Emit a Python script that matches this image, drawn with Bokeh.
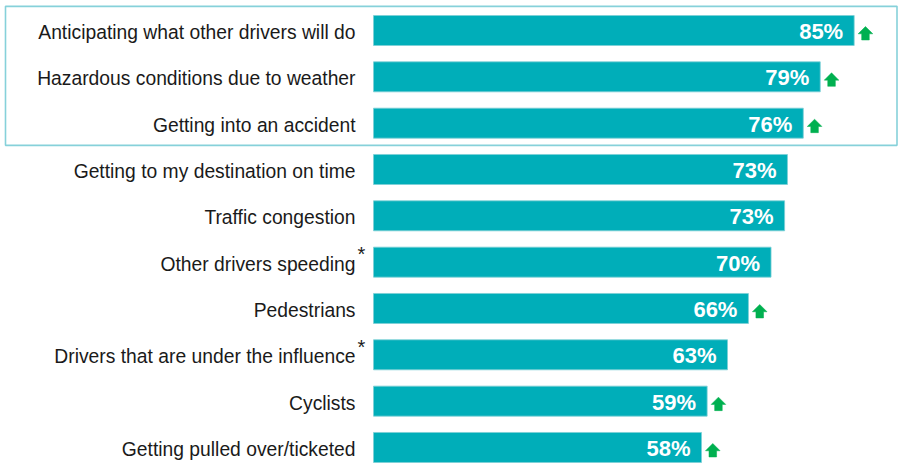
from bokeh.plotting import figure
from bokeh.models import Range1d, ColumnDataSource
from bokeh.core.properties import value
from bokeh.embed import file_html
from bokeh.resources import INLINE

# ---- data ----
categories = [
    "Anticipating what other drivers will do",
    "Hazardous conditions due to weather",
    "Getting into an accident",
    "Getting to my destination on time",
    "Traffic congestion",
    "Other drivers speeding",
    "Pedestrians",
    "Drivers that are under the influence",
    "Cyclists",
    "Getting pulled over/ticketed",
]
values = [85, 79, 76, 73.2, 72.7, 70.3, 66.3, 62.6, 59, 58]
value_labels = ["85%", "79%", "76%", "73%", "73%", "70%", "66%", "63%", "59%", "58%"]
starred = [False, False, False, False, False, True, False, True, False, False]
increased = [True, True, True, False, False, False, True, False, True, True]
highlighted = 3  # first three rows are boxed

W, H = 898, 464
PX_PER_UNIT = 5.655          # horizontal pixels per percentage point
ROW_PX = 46.33               # pixels per row
TOP_PX = 30.0                # centre of first row
LEFT_PX = 373.0              # where 0% lies

XPX = 1.0 / PX_PER_UNIT
YPX = 1.0 / ROW_PX

p = figure(width=W, height=H, output_backend="svg", toolbar_location=None,
           min_border=0, min_border_left=0, min_border_right=0,
           min_border_top=0, min_border_bottom=0)
p.x_range = Range1d(-LEFT_PX * XPX, (W - LEFT_PX) * XPX)
p.y_range = Range1d((H - TOP_PX) * YPX, -TOP_PX * YPX)
p.axis.visible = False
p.grid.visible = False
p.outline_line_color = None
p.background_fill_color = "white"
p.border_fill_color = "white"

idx = list(range(len(categories)))
src = ColumnDataSource(dict(y=idx, v=values, lab=value_labels, cat=categories,
                            lx=[v - 11 * XPX for v in values]))

# highlight box around the first rows
p.quad(left=[(5 - LEFT_PX) * XPX], right=[(896.5 - LEFT_PX) * XPX],
       top=[-0.5 - 1 * YPX], bottom=[highlighted - 0.5 - 1 * YPX],
       fill_color=None, line_color="#86D1DA", line_width=1.6)

# bars
p.hbar(y="y", left=0, right="v", height=30 * YPX, source=src,
       fill_color="#00AEB9", line_color="#7CCFD6", line_width=0.8)

# value labels
p.text(x="lx", y="y", text="lab", source=src, text_align="right",
       text_baseline="middle", text_color="white", text_font=value("Liberation Sans"),
       text_font_style="bold", text_font_size="22px", y_offset=1)

# category labels
p.text(x=[-18 * XPX] * len(categories), y=idx, text=categories, text_align="right",
       text_baseline="middle", text_color="#1a1a1a", text_font=value("Liberation Sans"),
       text_font_size="19.3px", y_offset=2)

# asterisks
sx = [2 * XPX - 18 * XPX for i in idx if starred[i]]
sy = [i for i in idx if starred[i]]
p.text(x=sx, y=sy, text=["*"] * len(sy), text_align="left", text_baseline="middle",
       text_color="#1a1a1a", text_font=value("Liberation Sans"), text_font_size="20px",
       y_offset=-8)

# green up arrows
axs, ays = [], []
for i in idx:
    if not increased[i]:
        continue
    cx = values[i] + 11.3 * XPX
    c = i
    hw, sw = 7.3 * XPX, 3.8 * XPX
    ht, hb, sb = c - 4 * YPX, c + 3.3 * YPX, c + 9.5 * YPX
    axs.append([cx - hw, cx, cx + hw, cx + sw, cx + sw, cx - sw, cx - sw])
    ays.append([hb, ht, hb, hb, sb, sb, hb])
p.patches(xs=axs, ys=ays, fill_color="#00B050", line_color="#00B050", line_width=0.5)

open("out.html", "w").write(file_html(p, INLINE))
